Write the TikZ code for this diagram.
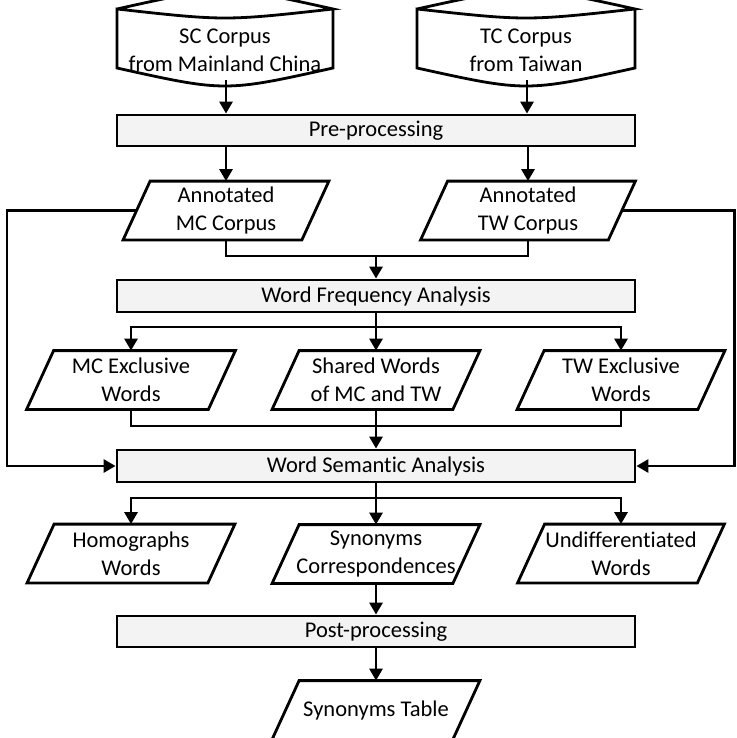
\documentclass[tikz,border=0pt]{standalone}
\usepackage{fontspec}
\setmainfont{Carlito}[Ligatures=NoCommon]
\usetikzlibrary{arrows.meta}
\definecolor{boxgray}{RGB}{242,243,242}
\begin{document}
\begin{tikzpicture}[x=1pt,y=-1pt,
  line width=2.8pt,
  every node/.style={font=\fontsize{22.5}{28}\selectfont, align=center, inner sep=0pt},
  procbox/.style={draw, fill=boxgray, minimum width=518pt, minimum height=31pt},
  databox/.style={minimum height=56pt},
  arr/.style={-{Triangle[length=12pt,width=13pt]}}]
\useasboundingbox (0,0) rectangle (736,738);

% cylinders
\draw (117,9) .. controls (225,-15) .. (333,9) .. controls (225,21) .. (117,9) -- (117,68) .. controls (225,92) .. (333,68) -- (333,9);
\draw (417,9) .. controls (526,-15) .. (635,9) .. controls (526,21) .. (417,9) -- (417,68) .. controls (526,92) .. (635,68) -- (635,9);
\node (sc) at (225,50) {SC Corpus\\from Mainland China};
\node (tc) at (526,50) {TC Corpus\\from Taiwan};
\coordinate (scb) at (226,80);
\coordinate (tcb) at (527,80);

% process boxes
\node[procbox] (pre) at (376,130.5) {Pre-processing};
\node[procbox, minimum height=32pt] (wfa) at (376,296) {Word Frequency Analysis};
\node[procbox, minimum height=32pt] (wsa) at (376,466) {Word Semantic Analysis};
\node[procbox] (post) at (376,631.5) {Post-processing};

% data nodes
\node[databox, minimum width=176pt] (mc) at (226,210.5) {Annotated\\MC Corpus};
\node[databox, minimum width=185pt] (tw) at (528,210.5) {Annotated\\TW Corpus};
\node[databox, minimum width=179pt] (mce) at (131,380) {MC Exclusive\\Words};
\node[databox, minimum width=178pt] (sh) at (376,380) {Shared Words\\of MC and TW};
\node[databox, minimum width=178pt] (twe) at (621,380) {TW Exclusive\\Words};
\node[databox, minimum width=178pt] (hom) at (131,553.5) {Homographs\\Words};
\node[databox, minimum width=178pt] (syn) at (376,554) {Synonyms\\Correspondences};
\node[databox, minimum width=177pt] (und) at (621,553.5) {Undifferentiated\\Words};
\node[databox, minimum width=178pt] (tab) at (376,710) {Synonyms Table};

\foreach \n in {mc,tw,mce,sh,twe,hom,syn,und,tab}
  \draw ([xshift=13.5pt]\n.north west) -- ([xshift=13.5pt]\n.north east) -- ([xshift=-13.5pt]\n.south east) -- ([xshift=-13.5pt]\n.south west) -- cycle;

% helper coordinates
\coordinate (m1) at (376,256);
\coordinate (s1) at (376,327);
\coordinate (m2) at (376,426);
\coordinate (s3) at (376,498);
\coordinate (L) at (7,0);
\coordinate (R) at (734.5,0);

% connectors
\draw[arr] (scb) -- (scb |- pre.north);
\draw[arr] (tcb) -- (tcb |- pre.north);
\draw[arr] (pre.south -| mc.north) -- (mc.north);
\draw[arr] (pre.south -| tw.north) -- (tw.north);
\draw (mc.south) |- (m1) -| (tw.south);
\draw[arr] (m1) -- (wfa.north);
\draw (wfa.south) -- (s1);
\draw[arr] (s1) -| (mce.north);
\draw[arr] (s1) -| (twe.north);
\draw[arr] (s1) -- (sh.north);
\draw (mce.south) |- (m2) -| (twe.south);
\draw[arr] (sh.south) -- (wsa.north);
\draw[arr] (mc.west) -- (mc.west -| L) -- (L |- wsa.west) -- (wsa.west);
\draw[arr] (tw.east) -- (tw.east -| R) -- (R |- wsa.east) -- (wsa.east);
\draw (wsa.south) -- (s3);
\draw[arr] (s3) -| (hom.north);
\draw[arr] (s3) -| (und.north);
\draw[arr] (s3) -- (syn.north);
\draw[arr] (syn.south) -- (post.north);
\draw[arr] (post.south) -- (tab.north);
\end{tikzpicture}
\end{document}
